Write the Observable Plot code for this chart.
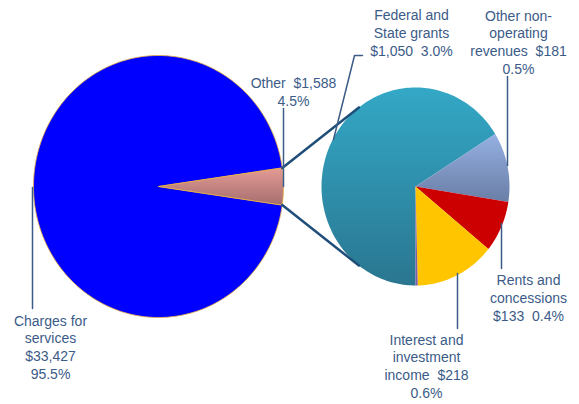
<!DOCTYPE html>
<html>
<head>
<meta charset="utf-8">
<script src="https://cdn.jsdelivr.net/npm/d3@7"></script>
<script src="https://cdn.jsdelivr.net/npm/@observablehq/plot@0.6"></script>
<style>
  html, body { margin: 0; padding: 0; background: #fff; }
  #chart svg text { white-space: pre; }
</style>
</head>
<body>
<div id="chart"></div>
<script>
// ---- data ----
const mainCategories = ["Charges for services", "Other"];
const mainValues = [33427, 1588];
const mainPercents = ["95.5%", "4.5%"];

const subCategories = ["Federal and State grants", "Other non-operating revenues", "Rents and concessions", "Interest and investment income", "Unlabeled"];
const subValues = [1050, 181, 133, 218, 6];
const subPercents = ["3.0%", "0.5%", "0.4%", "0.6%", ""];

// ---- layout / style ----
const W = 579, H = 404;
const big = {cx: 158, cy: 186, rx: 125, ry: 131};
const small = {cx: 415, cy: 186, rx: 94, ry: 99};
const mainFills = ["#0000ff", "url(#gPink)"];
const subFills = ["url(#gTeal)", "url(#gLb)", "#cc0000", "#ffc600", "#7a5fa8"];
const textColor = "#3b5b88";
const fmt = d3.format("$,");
const sp = "\u00a0\u00a0";

function arcPolygon(c, a0, a1, key, fill) {
  const pts = [{x: c.cx, y: c.cy, key, fill}];
  const n = Math.max(2, Math.ceil(Math.abs(a1 - a0) / 1.5));
  for (let i = 0; i <= n; i++) {
    const a = (a0 + (a1 - a0) * i / n) * Math.PI / 180;
    pts.push({x: c.cx + c.rx * Math.cos(a), y: c.cy + c.ry * Math.sin(a), key, fill});
  }
  pts.push({x: c.cx, y: c.cy, key, fill});
  return pts;
}
function edge(c, deg) {
  const a = deg * Math.PI / 180;
  return {x: c.cx + c.rx * Math.cos(a), y: c.cy + c.ry * Math.sin(a)};
}

// big pie: "Other" slice centred on 3 o'clock
const mainTotal = d3.sum(mainValues);
const otherHalf = 180 * mainValues[1] / mainTotal;
const bigSlices = [
  ...arcPolygon(big, otherHalf, 360 - otherHalf, mainCategories[0], mainFills[0]),
  ...arcPolygon(big, -otherHalf, otherHalf, mainCategories[1], mainFills[1])
];

// small pie: start at 6 o'clock, clockwise
const subTotal = d3.sum(subValues);
let acc = 90;
const smallSlices = [];
subValues.forEach((v, i) => {
  const a0 = acc, a1 = acc + 360 * v / subTotal;
  smallSlices.push(...arcPolygon(small, a0, a1, subCategories[i], subFills[i]));
  acc = a1;
});

// connector (series) lines
const pTop = edge(big, -otherHalf), pBot = edge(big, otherHalf);
const sTop = edge(small, 233), sBot = edge(small, 127);
const connectors = [
  {x: pTop.x, y: pTop.y, k: "t"}, {x: sTop.x, y: sTop.y, k: "t"},
  {x: pBot.x, y: pBot.y, k: "b"}, {x: sBot.x, y: sBot.y, k: "b"}
];

// leader lines
const leaders = [
  [[283, 108], [283, 186]],
  [[32, 187], [32, 308]],
  [[362, 55], [354, 55], [333, 139]],
  [[507, 76], [507, 165]],
  [[501, 223], [501, 268]],
  [[457, 273], [457, 328]]
].flatMap((pts, k) => pts.map(([x, y]) => ({x, y, k})));

// labels
const labels = [
  {x: 293, y: 90.5, text: `Other${sp}${fmt(mainValues[1])}\n${mainPercents[1]}`},
  {x: 50, y: 346, text: `Charges for\nservices\n${fmt(mainValues[0])}\n${mainPercents[0]}`},
  {x: 411, y: 32, text: `Federal and\nState grants\n${fmt(subValues[0])}${sp}${subPercents[0]}`},
  {x: 518, y: 41, text: `Other non-\noperating\nrevenues${sp}${fmt(subValues[1])}\n${subPercents[1]}`},
  {x: 528, y: 297, text: `Rents and\nconcessions\n${fmt(subValues[2])}${sp}${subPercents[2]}`},
  {x: 426, y: 365, text: `Interest and\ninvestment\nincome${sp}${fmt(subValues[3])}\n${subPercents[3]}`}
];

function gradientDefs() {
  const ns = "http://www.w3.org/2000/svg";
  const defs = document.createElementNS(ns, "defs");
  const grads = [
    ["gPink", "#e59b95", "#a46e6e"],
    ["gTeal", "#33a8c6", "#2a7690"],
    ["gLb", "#95b0e2", "#6a7ea6"]
  ];
  for (const [id, c0, c1] of grads) {
    const g = document.createElementNS(ns, "linearGradient");
    g.setAttribute("id", id);
    g.setAttribute("x1", "0"); g.setAttribute("y1", "0");
    g.setAttribute("x2", "0"); g.setAttribute("y2", "1");
    [[0, c0], [1, c1]].forEach(([o, c]) => {
      const s = document.createElementNS(ns, "stop");
      s.setAttribute("offset", o);
      s.setAttribute("stop-color", c);
      g.appendChild(s);
    });
    defs.appendChild(g);
  }
  return defs;
}

const chart = Plot.plot({
  width: W,
  height: H,
  margin: 0,
  x: {domain: [0, W], range: [0, W], axis: null},
  y: {domain: [0, H], range: [0, H], axis: null},
  style: {fontFamily: "'Liberation Sans', Arial, sans-serif", background: "#fff"},
  marks: [
    gradientDefs,
    Plot.line(bigSlices, {x: "x", y: "y", z: "key", fill: "fill", stroke: "#e8b040", strokeWidth: 0.8, curve: "linear"}),
    Plot.line(smallSlices, {x: "x", y: "y", z: "key", fill: "fill", stroke: "none", curve: "linear"}),
    Plot.line(connectors, {x: "x", y: "y", z: "k", stroke: "#1f4e79", strokeWidth: 2.5}),
    Plot.line(leaders, {x: "x", y: "y", z: "k", stroke: textColor, strokeWidth: 1.5}),
    Plot.text(labels, {x: "x", y: "y", text: "text", fill: textColor, fontSize: 14, lineHeight: 1.27, textAnchor: "middle", lineAnchor: "middle"})
  ]
});
document.getElementById("chart").appendChild(chart);
</script>
</body>
</html>
